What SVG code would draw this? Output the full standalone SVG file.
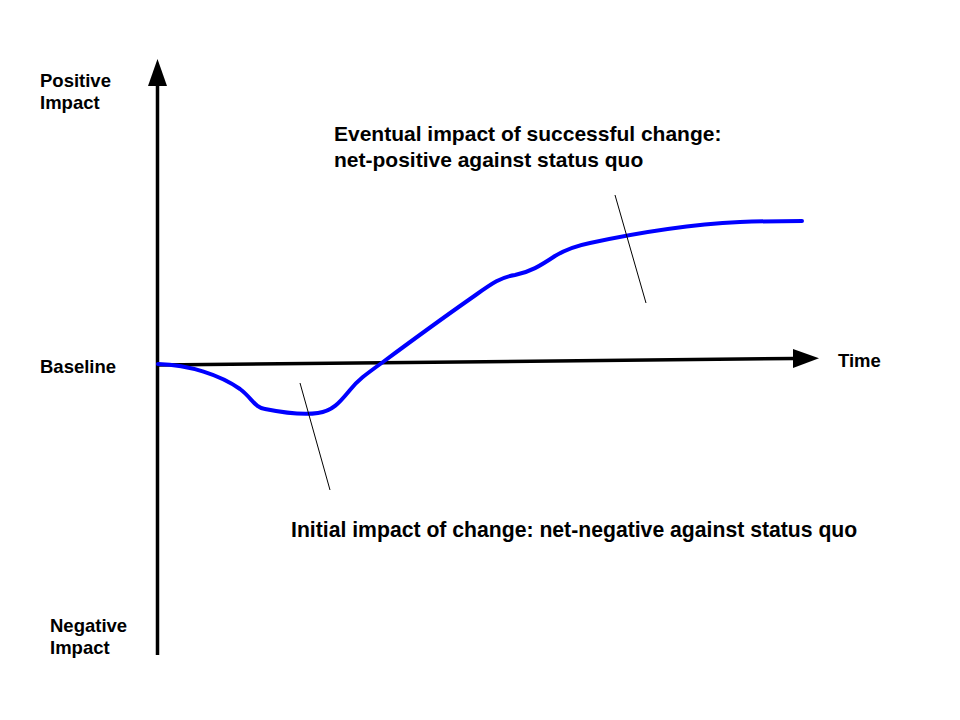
<svg xmlns="http://www.w3.org/2000/svg" width="960" height="720" viewBox="0 0 960 720">
<style>
text{font-family:"Liberation Sans",Arial,sans-serif;font-weight:bold;font-size:18.5px;fill:#000}
text.note{font-size:21px}
.axis{stroke:#000;stroke-width:3.5;fill:none}
.lead{stroke:#000;stroke-width:1;fill:none}
.curve{stroke:#0000ff;stroke-width:4;fill:none;stroke-linecap:round;stroke-linejoin:round}
</style>
<rect width="960" height="720" fill="#fff"/>
<g id="connectors">
<line class="axis" x1="157.5" y1="655" x2="157.5" y2="84"/>
<polygon points="157.5,59 148,86 167,86" fill="#000"/>
<line class="axis" x1="157" y1="365" x2="795" y2="358.5"/>
<polygon points="819,358.3 793,349 793,368" fill="#000"/>
<path class="curve" d="M158,364 C190,365 220,375 240,389 C252,398 255,408 265,409 C285,413 305,415 318,413 C333,411 340,402 350,390 C358,380 365,375 383,362 C410,342 440,320 470,299 C490,285 500,277 515,275 C530,272 540,266 555,256 C565,250 575,246 590,243 C650,230 700,224 740,222 C770,221 790,221 802,221"/>
<line class="lead" x1="615" y1="195" x2="646" y2="303"/>
<line class="lead" x1="300" y1="383" x2="330" y2="490"/>
</g>
<g id="label-positive"><text x="40" y="87">Positive</text><text x="40" y="109">Impact</text></g>
<g id="label-negative"><text x="50" y="632">Negative</text><text x="50" y="654">Impact</text></g>
<g id="label-baseline"><text x="40" y="373">Baseline</text></g>
<g id="label-time"><text x="838" y="367">Time</text></g>
<g id="label-eventual"><text class="note" x="334" y="141">Eventual impact of successful change:</text><text class="note" x="334" y="167">net-positive against status quo</text></g>
<g id="label-initial"><text class="note" x="291" y="537" style="font-size:21.2px">Initial impact of change: net-negative against status quo</text></g>
</svg>
